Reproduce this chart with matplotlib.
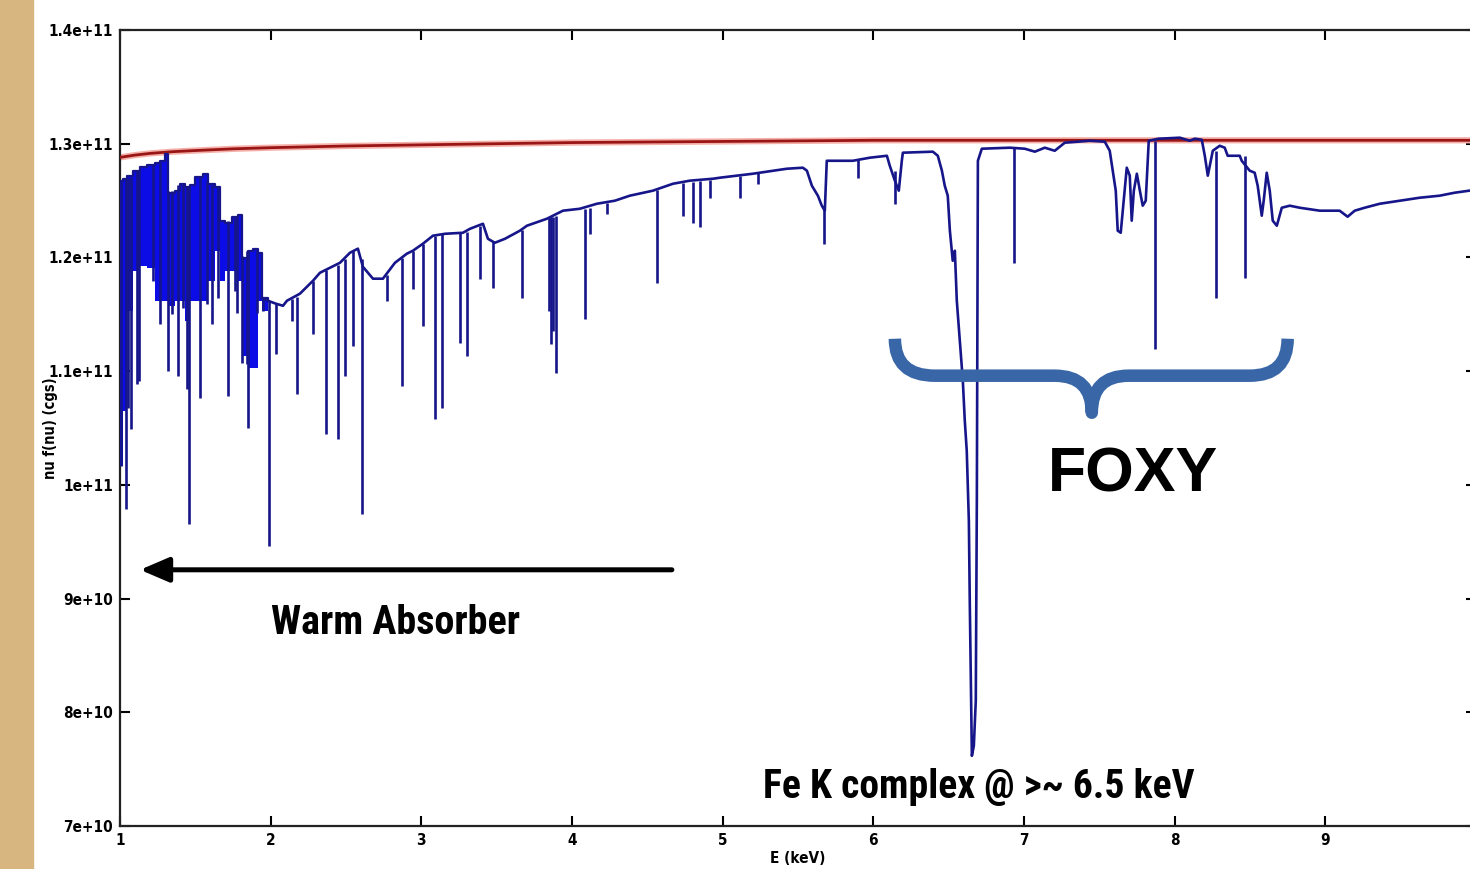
import matplotlib
matplotlib.use('Agg')
import matplotlib.pyplot as plt
from matplotlib.path import Path
from matplotlib.patches import PathPatch, Rectangle

# energies in keV, fluxes in units of 1e10 (cgs)

# unabsorbed model (red)
model_e = [1.0, 1.1, 1.2, 1.35, 1.5, 1.75, 2.0, 2.5, 3.0, 3.5, 4.0, 5.0, 6.0, 7.0, 8.0, 9.0, 10.0]
model_f = [12.88, 12.90, 12.915, 12.93, 12.94, 12.955, 12.965, 12.98, 12.99, 13.00, 13.01,
           13.02, 13.03, 13.03, 13.03, 13.03, 13.03]

# warm absorber band 1-2 keV (blended lines), step edges
band_e = [1.000, 1.020, 1.046, 1.086, 1.133, 1.179, 1.232, 1.265, 1.299, 1.319, 1.365, 1.398,
          1.431, 1.465, 1.498, 1.551, 1.584, 1.630, 1.664, 1.697, 1.743, 1.783, 1.810, 1.849,
          1.883, 1.916, 1.942, 1.982]
band_hi = [12.675, 12.692, 12.719, 12.763, 12.798, 12.815, 12.833, 12.850, 12.912, 12.569,
           12.587, 12.648, 12.622, 12.639, 12.710, 12.736, 12.648, 12.622, 12.323, 12.305,
           12.358, 12.376, 11.997, 12.059, 12.077, 12.041, 11.646, 11.619]
band_lo = [10.168, 10.652, 11.531, 11.883, 11.927, 11.909, 11.619, 11.619, 11.619, 11.575,
           11.619, 11.619, 11.443, 11.619, 11.619, 11.619, 11.795, 12.059, 11.795, 11.883,
           11.883, 11.795, 11.135, 11.030, 11.030, 11.619, 11.531, 11.531]

# absorbed continuum above 2 keV, incl. broad Fe K / FOXY troughs
cont_e = [1.942, 1.982, 2.035, 2.082, 2.108, 2.194, 2.281, 2.327, 2.393, 2.460, 2.526, 2.579,
          2.612, 2.679, 2.745, 2.825, 2.904, 2.944, 3.011, 3.077, 3.157, 3.276, 3.323, 3.409,
          3.442, 3.488, 3.555, 3.654, 3.701, 3.833, 3.940, 4.052, 4.165, 4.285, 4.384, 4.537,
          4.670, 4.782, 4.935, 4.981, 5.200, 5.426, 5.532, 5.559, 5.592, 5.632, 5.658, 5.678,
          5.691, 5.864, 5.977, 6.090, 6.109, 6.143, 6.169, 6.189, 6.196, 6.395, 6.428, 6.455,
          6.474, 6.494, 6.508, 6.527, 6.541, 6.554, 6.574, 6.594, 6.607, 6.620, 6.634, 6.640,
          6.647, 6.654, 6.667, 6.680, 6.687, 6.694, 6.720, 6.906, 7.005, 7.072, 7.138, 7.204,
          7.271, 7.437, 7.536, 7.569, 7.589, 7.609, 7.622, 7.642, 7.662, 7.682, 7.702, 7.715,
          7.729, 7.749, 7.769, 7.788, 7.808, 7.828, 7.894, 8.034, 8.100, 8.133, 8.180, 8.200,
          8.220, 8.233, 8.253, 8.299, 8.332, 8.352, 8.432, 8.445, 8.498, 8.531, 8.551, 8.578,
          8.591, 8.611, 8.631, 8.651, 8.678, 8.711, 8.764, 8.830, 8.963, 9.095, 9.148, 9.195,
          9.261, 9.361, 9.494, 9.626, 9.759, 9.858, 9.998]
cont_f = [11.646, 11.619, 11.593, 11.575, 11.619, 11.681, 11.795, 11.865, 11.909, 11.953, 12.041,
          12.077, 11.918, 11.813, 11.813, 11.953, 12.033, 12.059, 12.121, 12.191, 12.208, 12.217,
          12.252, 12.296, 12.164, 12.129, 12.164, 12.235, 12.279, 12.340, 12.411, 12.428, 12.472,
          12.499, 12.543, 12.587, 12.648, 12.675, 12.692, 12.701, 12.736, 12.780, 12.789, 12.763,
          12.631, 12.543, 12.455, 12.411, 12.850, 12.850, 12.877, 12.894, 12.807, 12.675, 12.587,
          12.850, 12.921, 12.930, 12.894, 12.763, 12.631, 12.543, 12.235, 11.971, 12.059, 11.619,
          11.267, 10.916, 10.564, 10.300, 9.684, 8.981, 8.277, 7.617, 7.705, 8.101, 9.860, 12.850,
          12.956, 12.965, 12.956, 12.930, 12.965, 12.938, 13.009, 13.026, 13.018, 12.938, 12.763,
          12.587, 12.235, 12.217, 12.499, 12.789, 12.719, 12.323, 12.587, 12.736, 12.587, 12.455,
          12.499, 13.026, 13.044, 13.053, 13.026, 13.044, 13.035, 12.894, 12.719, 12.807, 12.938,
          12.982, 12.965, 12.894, 12.894, 12.850, 12.763, 12.745, 12.631, 12.367, 12.499, 12.745,
          12.587, 12.323, 12.279, 12.437, 12.455, 12.437, 12.411, 12.411, 12.358, 12.411, 12.437,
          12.472, 12.499, 12.525, 12.543, 12.569, 12.595]

# narrow absorption lines: energy, continuum level, line minimum
line_e = [1.007, 1.040, 1.053, 1.073, 1.113, 1.126, 1.219, 1.265, 1.319, 1.345, 1.385, 1.418,
          1.445, 1.458, 1.531, 1.577, 1.610, 1.650, 1.717, 1.763, 1.776, 1.810, 1.843, 1.849,
          1.909, 1.949,
          1.989, 2.035, 2.141, 2.175, 2.281, 2.367, 2.447, 2.493, 2.546, 2.606, 2.772, 2.871,
          2.944, 3.011, 3.090, 3.137, 3.256, 3.303, 3.389, 3.475, 3.668, 3.847, 3.860, 3.873,
          3.893, 4.086, 4.119, 4.232, 4.563, 4.736, 4.802, 4.849, 4.915, 5.114, 5.234, 5.672,
          5.897, 6.143, 6.932, 7.868, 8.273, 8.465]
line_top = [12.675, 12.692, 12.701, 12.710, 12.763, 12.771, 12.824, 12.842, 12.587, 12.587,
            12.639, 12.648, 12.631, 12.631, 12.719, 12.675, 12.639, 12.631, 12.323, 12.358,
            12.367, 12.015, 12.059, 12.059, 12.068, 11.646,
            11.619, 11.593, 11.637, 11.654, 11.795, 11.892, 11.936, 11.989, 12.059, 11.989,
            11.848, 11.997, 12.059, 12.121, 12.191, 12.208, 12.217, 12.226, 12.279, 12.147,
            12.244, 12.349, 12.358, 12.358, 12.367, 12.428, 12.437, 12.481, 12.595, 12.657,
            12.666, 12.675, 12.683, 12.719, 12.745, 12.455, 12.859, 12.763, 12.965, 13.026,
            12.938, 12.894]
line_bot = [10.168, 9.790, 10.678, 10.493, 10.889, 10.916, 11.795, 11.417, 11.004, 11.505,
            10.960, 11.558, 10.845, 9.658, 10.766, 11.593, 11.417, 11.646, 10.784, 11.707,
            11.514, 11.074, 11.065, 10.502, 11.514, 11.531,
            9.464, 11.153, 11.443, 10.801, 11.329, 10.449, 10.406, 10.960, 11.223, 9.746,
            11.619, 10.872, 11.725, 11.399, 10.581, 10.678, 11.250, 11.135, 11.813, 11.734,
            11.646, 11.531, 11.241, 11.355, 10.986, 11.461, 12.208, 12.384, 11.778, 12.367,
            12.305, 12.270, 12.525, 12.525, 12.648, 12.121, 12.701, 12.472, 11.953, 11.197,
            11.646, 11.821]

yticks = [7, 8, 9, 10, 11, 12, 13, 14]
ytick_labels = ['7e+10', '8e+10', '9e+10', '1e+11', '1.1e+11', '1.2e+11', '1.3e+11', '1.4e+11']
xticks = [1, 2, 3, 4, 5, 6, 7, 8, 9]

navy = '#16168a'
bright = '#0c0ce6'
small = dict(family='DejaVu Sans', fontstretch='condensed', fontweight='bold')

fig = plt.figure(figsize=(14.7, 8.69), dpi=100)
fig.patches.append(Rectangle((0, 0), 33 / 1470, 1, transform=fig.transFigure,
                             color='#d7b680', zorder=-10))
ax = fig.add_axes([120 / 1470, 43 / 869, 1356 / 1470, 796 / 869])

# model
ax.plot(model_e, model_f, color='#f4b0a8', lw=4.5, solid_capstyle='butt', zorder=2)
ax.plot(model_e, model_f, color='#9a1616', lw=2.0, zorder=3)

# absorbed spectrum
ax.fill_between(band_e, band_lo, band_hi, step='post', color=bright, lw=0, zorder=4)
ax.step(band_e, band_hi, where='post', color=navy, lw=1.6, zorder=5)
ax.plot(cont_e, cont_f, color=navy, lw=1.9, zorder=5)
ax.vlines(line_e, line_bot, line_top, color=navy, lw=1.9, zorder=5)

ax.set_xlim(1, 10)
ax.set_ylim(7, 14)
ax.set_xticks(xticks)
ax.set_xticklabels([str(t) for t in xticks], fontsize=11, **small)
ax.set_yticks(yticks)
ax.set_yticklabels(ytick_labels, fontsize=11, **small)
ax.tick_params(direction='in', length=7, width=1.5, top=True, right=True, pad=5)
for s in ax.spines.values():
    s.set_linewidth(1.6)
    s.set_color('#222222')

ax.set_xlabel('E (keV)', fontsize=11, **small)
ax.xaxis.set_label_coords(0.5, -0.032)
ax.set_ylabel('nu f(nu) (cgs)', fontsize=10.5, **small)
ax.yaxis.set_label_coords(-0.046, 0.5)

# annotations
ax.annotate('', xy=(1.133, 9.253), xytext=(4.663, 9.253),
            arrowprops=dict(arrowstyle='-|>,head_length=0.7,head_width=0.3', lw=3.6,
                            color='black', shrinkA=0, shrinkB=0, mutation_scale=25))
ax.text(2.831, 8.787, 'Warm Absorber', ha='center', va='center', fontsize=29,
        fontweight='bold', family='Roboto Condensed')
ax.text(6.700, 7.345, 'Fe K complex @ >~ 6.5 keV', ha='center', va='center', fontsize=28.5,
        fontweight='bold', family='Roboto Condensed')
ax.text(7.722, 10.089, 'FOXY', ha='center', va='center', fontsize=45, fontweight='bold',
        family='Liberation Sans')

brace = Path([(6.143, 11.285), (6.143, 10.960), (6.408, 10.960), (7.204, 10.960),
              (7.450, 10.960), (7.450, 10.634), (7.450, 10.960), (7.695, 10.960),
              (8.498, 10.960), (8.750, 10.960), (8.750, 11.285)],
             [Path.MOVETO, Path.CURVE3, Path.CURVE3, Path.LINETO, Path.CURVE3, Path.CURVE3,
              Path.CURVE3, Path.CURVE3, Path.LINETO, Path.CURVE3, Path.CURVE3])
ax.add_patch(PathPatch(brace, fill=False, edgecolor='#3866a6', lw=9, capstyle='butt',
                       joinstyle='round', zorder=6))

fig.savefig('out.png', dpi=100)
